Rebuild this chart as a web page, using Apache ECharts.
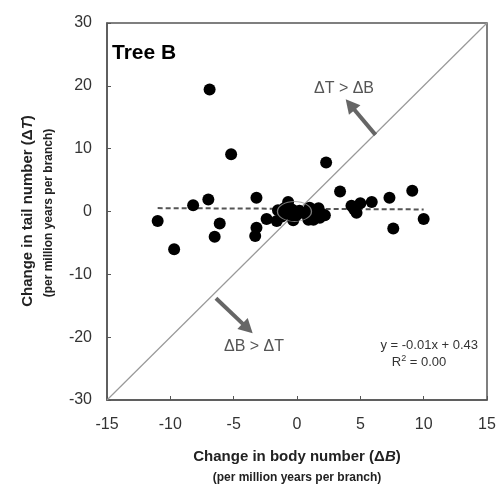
<!DOCTYPE html>
<html lang="en">
<head>
    <meta charset="UTF-8">
    <title>Tree B</title>
    <style>
        html, body { margin: 0; padding: 0; background: #fff; }
        #main { width: 502px; height: 487px; }
    </style>
</head>
<body>
    <div id="main"></div>
    <script src="https://cdn.jsdelivr.net/npm/echarts@6/dist/echarts.min.js"></script>
    <script>
        // change in body number (x) and tail number (y) per branch
        var dB = [-6.9, -5.2, 2.3, 3.4, 9.1, 7.3, 5.9, 5.0, 4.3, 4.7, 4.5, 10.0, 7.6,
            -11.0, -9.7, -8.2, -7.0, -6.1, -6.5, -3.2, -3.2, -3.3, -2.4, -1.6,
            -1.5, -1.2, -1.0, -0.7, -0.6, -0.4, -0.2, 0.0, -0.9, 0.2, -0.3,
            0.8, 1.0, 1.2, 1.3, 1.7, 1.8, 1.9, 1.5, 2.2, 0.9];
        var dT = [19.4, 9.1, 7.8, 3.2, 3.3, 2.2, 1.5, 1.3, 0.9, -0.2, 0.4, -1.2, -2.7,
            -1.5, -6.0, 1.0, 1.9, -1.9, -4.0, 2.2, -2.6, -3.9, -1.2, -1.5,
            0.2, -0.8, 0.5, 1.5, -0.3, 0.3, -0.9, -0.5, -0.3, 0.1, -1.4,
            -0.6, 0.6, 0.2, -1.3, 0.5, -1.0, -0.3, -0.5, -0.6, -1.3];
        var xTicks = [-15, 15, 5];
        var yTicks = [-30, 30, 10];
        // trend line y = -0.01x + 0.43, endpoints
        var trend = [[-11.0, 0.54], [10.0, 0.33]];
        var diagonal = [[-15, -30], [15, 30]];
        var arrowUp = [[6.2, 12.2], [4.2, 17.0]];
        var arrowDown = [[-6.4, -13.8], [-3.9, -18.6]];
        var circleAt = [[-0.2, 0.0]];

        var pts = [];
        for (var i = 0; i < dB.length; i++) {
            pts.push([dB[i], dT[i]]);
        }

        var font = 'Liberation Sans, Arial, sans-serif';
        var myChart = echarts.init(document.getElementById('main'));

        var option = {
            animation: false,
            grid: {
                left: 107, right: 15, top: 23, bottom: 87,
                show: true, borderColor: '#555', borderWidth: 1.5
            },
            xAxis: {
                type: 'value',
                min: xTicks[0], max: xTicks[1], interval: xTicks[2],
                splitLine: { show: false },
                axisLine: { onZero: false, lineStyle: { color: '#555', width: 1.5 } },
                axisTick: { inside: true, length: 4, lineStyle: { color: '#555' } },
                axisLabel: { margin: 17, color: '#333', fontSize: 16, fontFamily: font }
            },
            yAxis: {
                type: 'value',
                min: yTicks[0], max: yTicks[1], interval: yTicks[2],
                splitLine: { show: false },
                axisLine: { onZero: false, lineStyle: { color: '#555', width: 1.5 } },
                axisTick: { inside: true, length: 4, lineStyle: { color: '#555' } },
                axisLabel: { margin: 15, color: '#333', fontSize: 16, fontFamily: font }
            },
            series: [{
                type: 'line',
                data: diagonal,
                symbol: 'none',
                silent: true,
                lineStyle: { color: '#999', width: 1.2 },
                markLine: {
                    silent: true,
                    symbol: ['none', 'triangle'],
                    symbolSize: [15, 14],
                    label: { show: false },
                    lineStyle: { color: '#666', width: 4, type: 'solid' },
                    data: [
                        [{ coord: arrowUp[0] }, { coord: arrowUp[1] }],
                        [{ coord: arrowDown[0] }, { coord: arrowDown[1] }]
                    ]
                }
            }, {
                type: 'line',
                data: trend,
                symbol: 'none',
                silent: true,
                lineStyle: { color: '#555', width: 2, type: [5, 3] }
            }, {
                type: 'scatter',
                data: pts,
                symbolSize: 12,
                itemStyle: { color: '#000', opacity: 1 },
                z: 3
            }, {
                type: 'scatter',
                data: circleAt,
                symbol: 'circle',
                symbolSize: [34, 20],
                silent: true,
                itemStyle: { color: 'rgba(0,0,0,0)', borderColor: '#999', borderWidth: 1 },
                z: 4
            }],
            graphic: [{
                type: 'text', left: 112, top: 43,
                style: { text: 'Tree B', font: 'bold 21px ' + font, fill: '#000' }
            }, {
                type: 'text', x: 344, y: 89,
                style: { text: 'ΔT > ΔB', font: '16px ' + font, fill: '#555', align: 'center', verticalAlign: 'middle' }
            }, {
                type: 'text', x: 254, y: 347,
                style: { text: 'ΔB > ΔT', font: '16px ' + font, fill: '#555', align: 'center', verticalAlign: 'middle' }
            }, {
                type: 'text', x: 478, y: 345,
                style: { text: 'y = -0.01x + 0.43', font: '13px ' + font, fill: '#333', align: 'right', verticalAlign: 'middle' }
            }, {
                type: 'text', x: 419, y: 362,
                style: {
                    text: '{a|R}{s|2}{a| = 0.00}', align: 'center', verticalAlign: 'middle',
                    rich: {
                        a: { font: '13px ' + font, fill: '#333' },
                        s: { font: '9px ' + font, fill: '#333', verticalAlign: 'top', padding: [0, 0, 6, 0] }
                    }
                }
            }, {
                type: 'text', x: 297, y: 457,
                style: {
                    text: '{a|Change in body number (Δ}{i|B}{a|)}', align: 'center', verticalAlign: 'middle',
                    rich: {
                        a: { font: 'bold 15px ' + font, fill: '#222' },
                        i: { font: 'italic bold 15px ' + font, fill: '#222' }
                    }
                }
            }, {
                type: 'text', x: 297, y: 478,
                style: { text: '(per million years per branch)', font: 'bold 12px ' + font, fill: '#222', align: 'center', verticalAlign: 'middle' }
            }, {
                type: 'text', x: 28, y: 211, rotation: Math.PI / 2,
                style: {
                    text: '{a|Change in tail number (Δ}{i|T}{a|)}', align: 'center', verticalAlign: 'middle',
                    rich: {
                        a: { font: 'bold 15px ' + font, fill: '#222' },
                        i: { font: 'italic bold 15px ' + font, fill: '#222' }
                    }
                }
            }, {
                type: 'text', x: 49, y: 213, rotation: Math.PI / 2,
                style: { text: '(per million years per branch)', font: 'bold 12px ' + font, fill: '#222', align: 'center', verticalAlign: 'middle' }
            }]
        };
        myChart.setOption(option);
    </script>
</body>
</html>
